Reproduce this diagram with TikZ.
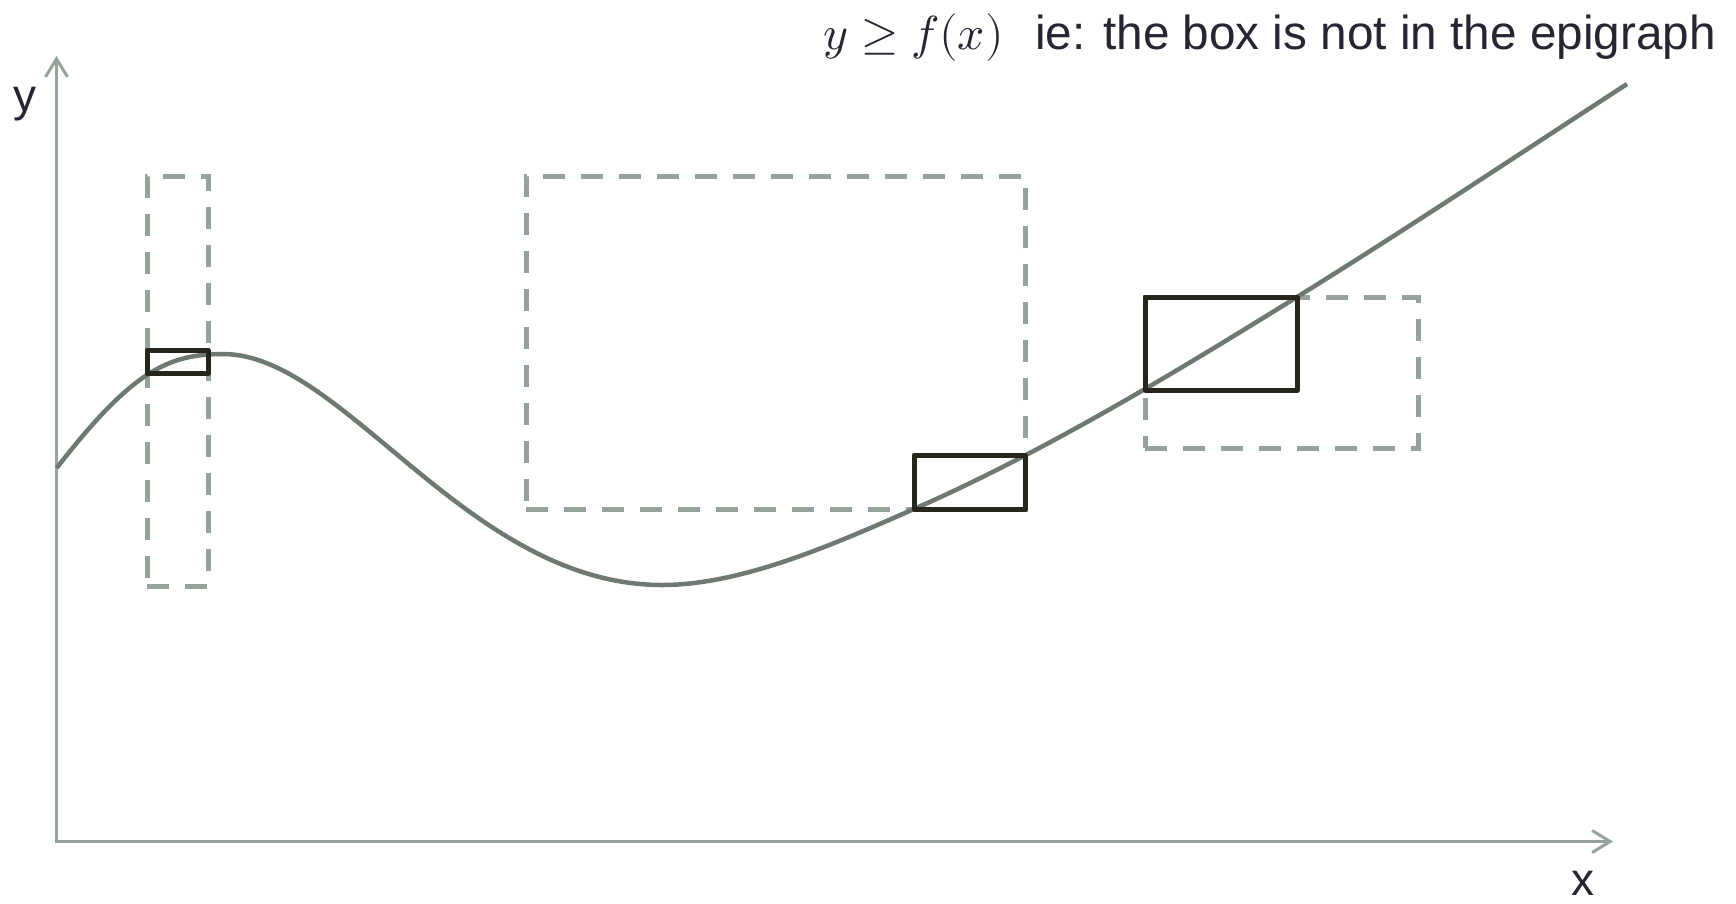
\documentclass[tikz,border=0pt]{standalone}
\usepackage{fontspec}
\usepackage{unicode-math}
\setmainfont{Liberation Sans}
\usetikzlibrary{arrows.meta}
\definecolor{curvecol}{HTML}{6E7A71}
\definecolor{axiscol}{HTML}{95A39A}
\definecolor{boxcol}{HTML}{25251A}
\definecolor{txtcol}{HTML}{262633}
\tikzset{
  axisline/.style={draw=axiscol, line width=3pt, {Straight Barb[length=18pt,width=22pt,line width=3pt]}-{Straight Barb[length=18pt,width=22pt,line width=3pt]}},
  curveline/.style={draw=curvecol, line width=4.5pt},
  solidbox/.style={draw=boxcol, line width=5pt, line join=round, inner sep=0pt, outer sep=0pt, rectangle},
  dashbox/.style={draw=axiscol, line width=5pt, dash pattern=on 22pt off 16pt, inner sep=0pt, outer sep=0pt, rectangle},
  lbl/.style={text=txtcol, font=\fontsize{46}{50}\selectfont, inner sep=0pt},
  toptxt/.style={text=txtcol, font=\fontsize{47.7}{52}\selectfont, inner sep=0pt},
}
\begin{document}
\begin{tikzpicture}[x=1pt,y=-1pt]
\useasboundingbox[fill=white] (0,0) rectangle (1736,903);
% axes
\coordinate (ytop) at (56.5,56);
\coordinate (origin) at (56.5,841.5);
\coordinate (xend) at (1613,841.5);
\draw[axisline] (ytop) -- (origin) -- (xend);
\node[lbl, anchor=base] (ylbl) at (25,111) {y};
\node[lbl, anchor=base] (xlbl) at (1583,895) {x};
% dashed boxes
\node[dashbox, minimum width=61pt, minimum height=410pt] (d1) at (177.5,381) {};
\node[dashbox, minimum width=499pt, minimum height=333pt] (d2) at (775.5,342.5) {};
\node[dashbox, minimum width=273pt, minimum height=151pt] (d3) at (1281.5,372.5) {};
% curve
\coordinate (c0) at (56.7,468);
\coordinate (cmax) at (223,354);
\coordinate (cmin) at (662,585);
\coordinate (cb2) at (914,509);
\coordinate (cb3) at (1297,297);
\coordinate (cend) at (1627,84);
\draw[curveline] (c0) .. controls (131.7,371.3) and (168,354) .. (cmax)
  .. controls (344,354) and (468,585) .. (cmin)
  .. controls (742,585) and (834,544.2) .. (cb2)
  .. controls (1042,452.7) and (1169,376.4) .. (cb3)
  .. controls (1407,228.8) and (1517,155.5) .. (cend);
% solid boxes
\node[solidbox, minimum width=61pt, minimum height=23pt] (b1) at (177.5,361.5) {};
\node[solidbox, minimum width=111pt, minimum height=54pt] (b2) at (969.5,482) {};
\node[solidbox, minimum width=152pt, minimum height=93pt] (b3) at (1221,343.5) {};
% top text
\node[toptxt, anchor=base east] (math) at (1004,49) {$y \geq f(x)$};
\node[toptxt, anchor=base west] (note) at (1035,49) {ie: the box is not in the epigraph};
\end{tikzpicture}
\end{document}
